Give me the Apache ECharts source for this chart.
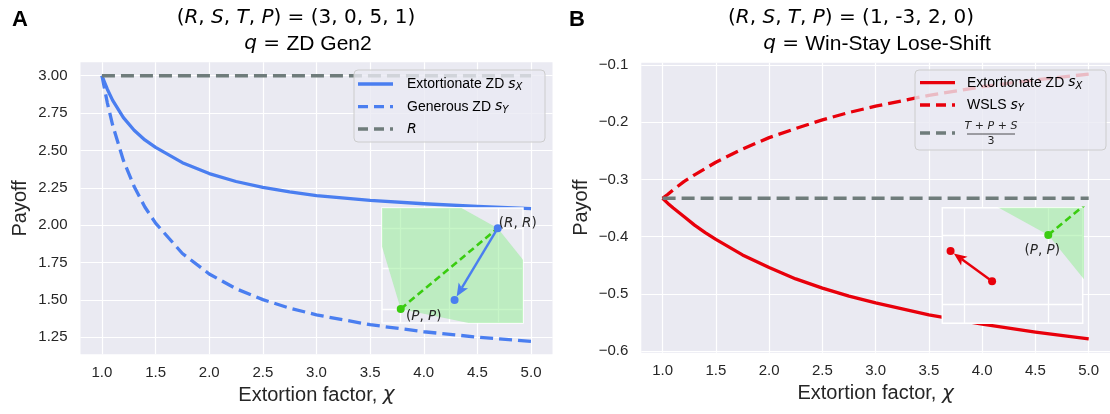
<!DOCTYPE html>
<html>
<head>
<meta charset="utf-8">
<script src="https://cdn.jsdelivr.net/npm/echarts@6/dist/echarts.min.js"></script>
<style>
  html, body { margin: 0; padding: 0; background: #fff; }
  #chart { width: 1110px; height: 414px; }
</style>
</head>
<body>
<div id="chart"></div>
<script>
// extortion factor (x values), shared by both panels
const chi = [1, 1.05, 1.1, 1.2, 1.3, 1.4, 1.5, 1.75, 2, 2.25, 2.5, 2.75, 3, 3.5, 4, 4.5, 5];

// panel A: (R,S,T,P) = (3,0,5,1), q = ZD Gen2
const extortA   = [3.000, 2.910, 2.835, 2.720, 2.635, 2.570, 2.520, 2.418, 2.345, 2.292, 2.252, 2.222, 2.198, 2.166, 2.143, 2.125, 2.110];
const generousA = [3.000, 2.819, 2.668, 2.433, 2.258, 2.121, 2.013, 1.810, 1.673, 1.574, 1.501, 1.444, 1.399, 1.333, 1.286, 1.250, 1.222];
const refA = [3, 3];            // R

// panel B: (R,S,T,P) = (1,-3,2,0), q = WSLS
const extortB = [-0.333, -0.342, -0.350, -0.365, -0.380, -0.393, -0.405, -0.432, -0.454, -0.474, -0.490, -0.504, -0.516, -0.537, -0.553, -0.567, -0.579];
const wslsB   = [-0.333, -0.326, -0.318, -0.304, -0.292, -0.281, -0.270, -0.247, -0.227, -0.211, -0.196, -0.183, -0.172, -0.153, -0.138, -0.126, -0.116];
const refB = [-0.333, -0.333];  // (T+P+S)/3
const refChi = [1, 5];

// tick labels
const xTicks  = [1, 1.5, 2, 2.5, 3, 3.5, 4, 4.5, 5];
const yTicksA = [1.25, 1.5, 1.75, 2, 2.25, 2.5, 2.75, 3];
const yTicksB = [-0.6, -0.5, -0.4, -0.3, -0.2, -0.1];

// insets: feasible payoff polygons (R,R),(S,T),(P,P),(T,S)
const feasibleA = [[1, 1], [5, 0], [3, 3], [0, 5]];
const feasibleB = [[0, 0], [2, -3], [1, 1], [-3, 2]];
const ppA = [1, 1], rrA = [3, 3];
const ppB = [0, 0], rrB = [1, 1];
const insetTicksA = [1, 2, 3];
const insetTicksB = [-0.5, 0];

const BLUE = '#4a7ef0';
const RED = '#e8000b';
const GREY = '#6f7c7b';
const GREEN = '#3acc10';
const BG = '#eaeaf2';
const TXT = '#262626';

const pairs = (xs, ys) => xs.map((x, i) => [x, ys[i]]);
const last = a => a[a.length - 1];

const mathRich = {
  i: { fontFamily: 'DejaVu Sans', fontStyle: 'italic', fontSize: 20, color: TXT },
  n: { fontFamily: 'DejaVu Sans', fontSize: 20, color: TXT },
  t: { fontFamily: 'Liberation Sans', fontSize: 21, color: TXT }
};

function mainX(grid) {
  return {
    type: 'value', gridIndex: grid, min: 0.8, max: 5.2,
    axisLine: { show: false },
    axisTick: { show: false, customValues: xTicks },
    axisLabel: { customValues: xTicks, formatter: v => v.toFixed(1), color: TXT, fontSize: 15, fontFamily: 'Liberation Sans', margin: 11 },
    splitLine: { show: true, lineStyle: { color: '#fff', width: 1.2 } },
    name: 'Extortion factor, {i|χ}', nameLocation: 'middle', nameGap: 30,
    nameTextStyle: { fontSize: 20, fontFamily: 'Liberation Sans', color: TXT,
      rich: { i: { fontSize: 20, fontFamily: 'DejaVu Sans', fontStyle: 'italic', color: TXT } } }
  };
}
function mainY(grid, min, max, ticks, fmt) {
  return {
    type: 'value', gridIndex: grid, min: min, max: max,
    axisLine: { show: false },
    axisTick: { show: false, customValues: ticks },
    axisLabel: { customValues: ticks, formatter: fmt, color: TXT, fontSize: 15, fontFamily: 'Liberation Sans', margin: 13 },
    splitLine: { show: true, lineStyle: { color: '#fff', width: 1.2 } },
    name: 'Payoff', nameLocation: 'middle', nameGap: 50,
    nameTextStyle: { fontSize: 20, fontFamily: 'Liberation Sans', color: TXT }
  };
}
function insetAxis(grid, min, max, ticks) {
  return {
    type: 'value', gridIndex: grid, min: min, max: max, z: 10,
    axisLine: { show: false },
    axisTick: { show: false, customValues: ticks },
    axisLabel: { show: false, customValues: ticks },
    splitLine: { show: true, lineStyle: { color: '#fff', width: 1.3 } }
  };
}

function polySeries(xi, poly) {
  return {
    type: 'custom', xAxisIndex: xi, yAxisIndex: xi, z: 11, clip: true, silent: true,
    data: poly,
    renderItem: (params, api) => {
      if (params.dataIndex !== 0) return null;
      return { type: 'polygon', shape: { points: poly.map(p => api.coord(p)) },
        style: { fill: 'rgba(144,238,144,0.5)', stroke: null } };
    }
  };
}
function lineSeries(xi, data, color, dashed, z) {
  return {
    type: 'line', xAxisIndex: xi, yAxisIndex: xi, data: data, showSymbol: false, z: z || 3,
    smooth: false, silent: true,
    lineStyle: { color: color, width: 3.3, type: dashed ? [13, 6] : 'solid', cap: 'butt', join: 'round' }
  };
}
// arrow between two payoff pairs; endpoints go through the axes via api.coord
function arrowSeries(xi, from, to, color) {
  return {
    type: 'custom', xAxisIndex: xi, yAxisIndex: xi, z: 13, silent: true,
    data: [[from[0], from[1], to[0], to[1]]],
    encode: { x: [0, 2], y: [1, 3] },
    renderItem: (params, api) => {
      const a = api.coord([api.value(0), api.value(1)]);
      const b = api.coord([api.value(2), api.value(3)]);
      const dx = b[0] - a[0], dy = b[1] - a[1];
      const len = Math.sqrt(dx * dx + dy * dy);
      const ux = dx / len, uy = dy / len;
      const tip = [b[0] - ux * 4, b[1] - uy * 4];
      const head = 13, half = 5.5;
      const base = [tip[0] - ux * head, tip[1] - uy * head];
      return {
        type: 'group',
        children: [
          { type: 'line', shape: { x1: a[0], y1: a[1], x2: base[0] + ux * 3, y2: base[1] + uy * 3 },
            style: { stroke: color, lineWidth: 2.4 } },
          { type: 'polygon', shape: { points: [tip,
              [base[0] - uy * half, base[1] + ux * half],
              [base[0] + ux * 3, base[1] + uy * 3],
              [base[0] + uy * half, base[1] - ux * half]] },
            style: { fill: color } }
        ]
      };
    }
  };
}
function dotSeries(xi, pts, color, label) {
  return {
    type: 'scatter', xAxisIndex: xi, yAxisIndex: xi, z: 14, symbolSize: 8, silent: true,
    itemStyle: { color: color, opacity: 1 },
    data: pts.map((p, k) => ({
      value: p,
      label: label && label[k] ? {
        show: true, position: 'inside', offset: label[k].offset, formatter: label[k].text,
        rich: { i: { fontFamily: 'DejaVu Sans', fontStyle: 'italic', fontSize: 13.5, color: TXT },
                n: { fontFamily: 'DejaVu Sans', fontSize: 13.5, color: TXT } }
      } : { show: false }
    }))
  };
}

// legend pieces (graphic)
function legendBox(x, y, w, h) {
  return { type: 'rect', z: 40, shape: { x: x, y: y, width: w, height: h, r: 4 },
    style: { fill: 'rgba(234,234,242,0.8)', stroke: '#cccccc', lineWidth: 1 } };
}
function legendLine(x, y, color, dashed) {
  return { type: 'line', z: 41, shape: { x1: x, y1: y, x2: x + 35, y2: y },
    style: { stroke: color, lineWidth: 3.3, lineDash: dashed ? [10, 6] : null, lineCap: 'butt' } };
}
const legRich = {
  t: { fontFamily: 'Liberation Sans', fontSize: 14, color: TXT },
  i: { fontFamily: 'DejaVu Sans', fontStyle: 'italic', fontSize: 14, color: TXT },
  s: { fontFamily: 'DejaVu Sans', fontStyle: 'italic', fontSize: 10, color: TXT, padding: [7, 0, 0, 0] }
};
function legendText(x, y, text) {
  return { type: 'text', z: 41, x: x, y: y,
    style: { text: text, rich: legRich, textAlign: 'left', align: 'left', textVerticalAlign: 'middle', verticalAlign: 'middle' } };
}
function titleText(x, y, text) {
  return { type: 'text', z: 41, x: x, y: y,
    style: { text: text, rich: mathRich, textAlign: 'center', align: 'center',
      textVerticalAlign: 'middle', verticalAlign: 'middle' } };
}

const option = {
  animation: false,
  backgroundColor: '#fff',
  grid: [
    { left: 80.5, top: 62.3, width: 472, height: 292, show: true, backgroundColor: BG, borderWidth: 0 },
    { left: 382, top: 208, width: 141, height: 115, show: true, backgroundColor: BG, borderColor: '#fff', borderWidth: 1.5, z: 9 },
    { left: 641.3, top: 62.7, width: 472, height: 290, show: true, backgroundColor: BG, borderWidth: 0 },
    { left: 942.3, top: 207.7, width: 140.4, height: 115.6, show: true, backgroundColor: BG, borderColor: '#fff', borderWidth: 1.5, z: 9 }
  ],
  xAxis: [
    mainX(0),
    insetAxis(1, 0.614, 3.52, insetTicksA),
    mainX(2),
    insetAxis(3, -0.628, 0.204, insetTicksB)
  ],
  yAxis: [
    mainY(0, 1.135, 3.09, yTicksA, v => v.toFixed(2)),
    insetAxis(1, 0.65, 3.5, insetTicksA),
    mainY(2, -0.603, -0.096, yTicksB, v => v.toFixed(1).replace('-', '\u2212')),
    insetAxis(3, -0.635, 0.196, insetTicksB)
  ],
  series: [
    // panel A main
    lineSeries(0, pairs(chi, extortA), BLUE, false, 3),
    lineSeries(0, pairs(chi, generousA), BLUE, true, 3),
    lineSeries(0, pairs(refChi, refA), GREY, true, 4),
    // panel A inset
    polySeries(1, feasibleA),
    { type: 'line', xAxisIndex: 1, yAxisIndex: 1, data: [ppA, rrA], showSymbol: false, z: 12, silent: true,
      lineStyle: { color: GREEN, width: 2.6, type: [7, 4] } },
    arrowSeries(1, [extortA[0], generousA[0]], [last(extortA), last(generousA)], BLUE),
    dotSeries(1, [ppA], GREEN, [{ text: '{n|(}{i|P}{n|, }{i|P}{n|)}', offset: [23, 8] }]),
    dotSeries(1, [rrA, [last(extortA), last(generousA)]], BLUE, [{ text: '{n|(}{i|R}{n|, }{i|R}{n|)}', offset: [20, -5] }, null]),
    // panel B main
    lineSeries(2, pairs(chi, extortB), RED, false, 3),
    lineSeries(2, pairs(chi, wslsB), RED, true, 3),
    lineSeries(2, pairs(refChi, refB), GREY, true, 4),
    // panel B inset
    polySeries(3, feasibleB),
    { type: 'line', xAxisIndex: 3, yAxisIndex: 3, data: [ppB, rrB], showSymbol: false, z: 12, silent: true,
      lineStyle: { color: GREEN, width: 2.6, type: [7, 4] } },
    arrowSeries(3, [extortB[0], wslsB[0]], [last(extortB), last(wslsB)], RED),
    dotSeries(3, [ppB], GREEN, [{ text: '{n|(}{i|P}{n|, }{i|P}{n|)}', offset: [-6, 16] }]),
    dotSeries(3, [[extortB[0], wslsB[0]], [last(extortB), last(wslsB)]], RED, null)
  ],
  graphic: [
    // panel letters
    { type: 'text', z: 41, x: 12, y: 20, style: { text: 'A', font: 'bold 22px "Liberation Sans"', fill: '#000', textVerticalAlign: 'middle', verticalAlign: 'middle' } },
    { type: 'text', z: 41, x: 569, y: 20, style: { text: 'B', font: 'bold 22px "Liberation Sans"', fill: '#000', textVerticalAlign: 'middle', verticalAlign: 'middle' } },
    // titles
    titleText(296, 18, '{n|(}{i|R}{n|, }{i|S}{n|, }{i|T}{n|, }{i|P}{n|) = (3, 0, 5, 1)}'),
    titleText(308, 44, '{i|q}{n| = }{t|ZD Gen2}'),
    titleText(851, 18, '{n|(}{i|R}{n|, }{i|S}{n|, }{i|T}{n|, }{i|P}{n|) = (1, -3, 2, 0)}'),
    titleText(877, 44, '{i|q}{n| = }{t|Win-Stay Lose-Shift}'),
    // legend A
    legendBox(354, 70, 191, 72),
    legendLine(358, 84, BLUE, false),
    legendLine(358, 106.7, BLUE, true),
    legendLine(358, 129, GREY, true),
    legendText(407, 84, '{t|Extortionate ZD }{i|s}{s|X}'),
    legendText(407, 106.7, '{t|Generous ZD }{i|s}{s|Y}'),
    legendText(407, 129, '{i|R}'),
    // legend B
    legendBox(915, 70, 191, 80),
    legendLine(920, 82.7, RED, false),
    legendLine(920, 105, RED, true),
    legendLine(920, 133, GREY, true),
    legendText(967, 82.7, '{t|Extortionate ZD }{i|s}{s|X}'),
    legendText(967, 105, '{t|WSLS }{i|s}{s|Y}'),
    { type: 'text', z: 41, x: 991, y: 126.5,
      style: { text: 'T + P + S', font: 'italic 11px "DejaVu Sans"', fill: TXT, textAlign: 'center', align: 'center', textVerticalAlign: 'middle', verticalAlign: 'middle' } },
    { type: 'line', z: 41, shape: { x1: 967, y1: 134, x2: 1015, y2: 134 }, style: { stroke: TXT, lineWidth: 0.8 } },
    { type: 'text', z: 41, x: 991, y: 141.5,
      style: { text: '3', font: '11px "DejaVu Sans"', fill: TXT, textAlign: 'center', align: 'center', textVerticalAlign: 'middle', verticalAlign: 'middle' } }
  ]
};

const chart = echarts.init(document.getElementById('chart'));
chart.setOption(option);
</script>
</body>
</html>
